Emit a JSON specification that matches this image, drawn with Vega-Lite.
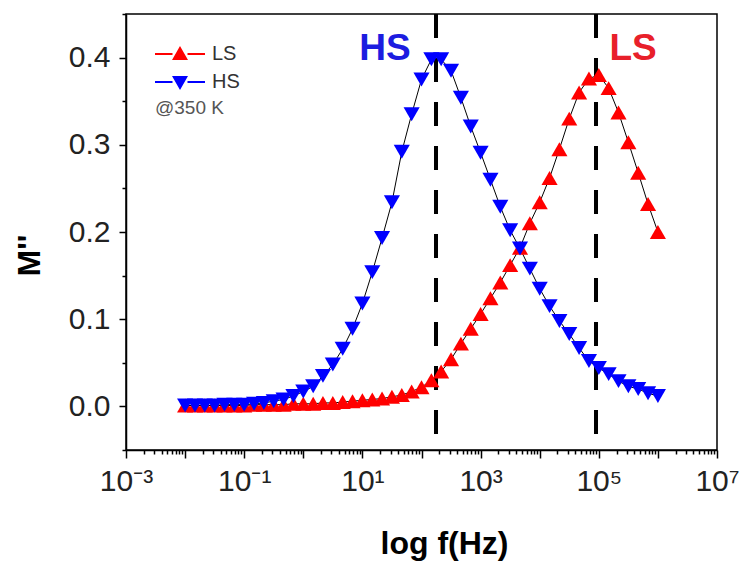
{
  "$schema": "https://vega.github.io/schema/vega-lite/v6.json",
  "width": 591,
  "height": 436,
  "autosize": "none",
  "padding": {"left": 126, "top": 14, "right": 28, "bottom": 113},
  "background": "white",
  "config": {
    "view": {"stroke": "black", "strokeWidth": 1.5},
    "font": "Liberation Sans",
    "axis": {
      "grid": false,
      "domainColor": "black",
      "domainWidth": 1.5,
      "tickColor": "black",
      "tickWidth": 1.5,
      "labelFont": "Liberation Sans",
      "labelFontSize": 30,
      "labelColor": "#222",
      "titleFont": "Liberation Sans",
      "titleFontSize": 32,
      "titleFontWeight": "bold",
      "titleColor": "black"
    },
    "legend": {
      "orient": "none",
      "legendX": 29,
      "legendY": 30,
      "padding": 0,
      "titleOrient": "bottom",
      "titleAnchor": "start",
      "titleAlign": "left",
      "titleFontSize": 19,
      "titleFontWeight": "normal",
      "titleColor": "#555",
      "titleFont": "Liberation Sans",
      "titlePadding": 7,
      "labelFont": "Liberation Sans",
      "labelFontSize": 20,
      "labelColor": "#333",
      "symbolSize": 400,
      "symbolStrokeWidth": 0,
      "symbolOpacity": 1,
      "labelOffset": 37,
      "rowPadding": 8
    }
  },
  "datasets": {
    "main": [
      {"f": 0.01, "LS": 0.001, "HS": 0.001},
      {"f": 0.0147, "LS": 0.001, "HS": 0.001},
      {"f": 0.0215, "LS": 0.001, "HS": 0.001},
      {"f": 0.0316, "LS": 0.001, "HS": 0.001},
      {"f": 0.0464, "LS": 0.001, "HS": 0.002},
      {"f": 0.0681, "LS": 0.001, "HS": 0.002},
      {"f": 0.1, "LS": 0.001, "HS": 0.002},
      {"f": 0.147, "LS": 0.002, "HS": 0.003},
      {"f": 0.215, "LS": 0.002, "HS": 0.004},
      {"f": 0.316, "LS": 0.002, "HS": 0.006},
      {"f": 0.464, "LS": 0.002, "HS": 0.008},
      {"f": 0.681, "LS": 0.003, "HS": 0.012},
      {"f": 1, "LS": 0.003, "HS": 0.017},
      {"f": 1.47, "LS": 0.003, "HS": 0.023},
      {"f": 2.15, "LS": 0.004, "HS": 0.035},
      {"f": 3.16, "LS": 0.004, "HS": 0.048},
      {"f": 4.64, "LS": 0.005, "HS": 0.066},
      {"f": 6.81, "LS": 0.006, "HS": 0.089},
      {"f": 10, "LS": 0.007, "HS": 0.118},
      {"f": 14.7, "LS": 0.008, "HS": 0.154},
      {"f": 21.5, "LS": 0.009, "HS": 0.193},
      {"f": 31.6, "LS": 0.011, "HS": 0.234},
      {"f": 46.4, "LS": 0.013, "HS": 0.292},
      {"f": 68.1, "LS": 0.017, "HS": 0.335},
      {"f": 100, "LS": 0.022, "HS": 0.375},
      {"f": 147, "LS": 0.030, "HS": 0.398},
      {"f": 215, "LS": 0.040, "HS": 0.398},
      {"f": 316, "LS": 0.054, "HS": 0.385},
      {"f": 464, "LS": 0.072, "HS": 0.354},
      {"f": 681, "LS": 0.089, "HS": 0.321},
      {"f": 1000, "LS": 0.106, "HS": 0.291},
      {"f": 1468, "LS": 0.124, "HS": 0.260},
      {"f": 2154, "LS": 0.142, "HS": 0.229},
      {"f": 3162, "LS": 0.162, "HS": 0.202},
      {"f": 4642, "LS": 0.182, "HS": 0.181},
      {"f": 6813, "LS": 0.210, "HS": 0.158},
      {"f": 10000, "LS": 0.234, "HS": 0.135},
      {"f": 14678, "LS": 0.262, "HS": 0.115},
      {"f": 21544, "LS": 0.295, "HS": 0.098},
      {"f": 31623, "LS": 0.330, "HS": 0.083},
      {"f": 46416, "LS": 0.360, "HS": 0.067},
      {"f": 68129, "LS": 0.376, "HS": 0.052},
      {"f": 100000, "LS": 0.380, "HS": 0.044},
      {"f": 146780, "LS": 0.365, "HS": 0.037},
      {"f": 215440, "LS": 0.337, "HS": 0.029},
      {"f": 316230, "LS": 0.303, "HS": 0.023},
      {"f": 464160, "LS": 0.268, "HS": 0.020},
      {"f": 681290, "LS": 0.232, "HS": 0.015},
      {"f": 1000000, "LS": 0.200, "HS": 0.012}
    ],
    "peaks": [
      {"f": 176, "series": "HS"},
      {"f": 89700, "series": "LS"}
    ],
    "labels": [
      {"f": 24, "M": 0.41, "series": "HS", "text": "HS"},
      {"f": 380000, "M": 0.41, "series": "LS", "text": "LS"}
    ]
  },
  "layer": [
    {
      "data": {"name": "peaks"},
      "mark": {"type": "rule", "color": "black", "strokeWidth": 4, "strokeDash": [24, 20]},
      "encoding": {
        "x": {
          "field": "f", "type": "quantitative",
          "scale": {"type": "log", "domain": [0.001, 10000000]},
          "axis": {
            "title": "log f(Hz)",
            "values": [0.001,0.002,0.003,0.004,0.005,0.006,0.007,0.008,0.009,0.01,0.02,0.03,0.04,0.05,0.06,0.07,0.08,0.09,0.1,0.2,0.3,0.4,0.5,0.6,0.7,0.8,0.9,1,2,3,4,5,6,7,8,9,10,20,30,40,50,60,70,80,90,100,200,300,400,500,600,700,800,900,1000,2000,3000,4000,5000,6000,7000,8000,9000,10000,20000,30000,40000,50000,60000,70000,80000,90000,100000,200000,300000,400000,500000,600000,700000,800000,900000,1000000,2000000,3000000,4000000,5000000,6000000,7000000,8000000,9000000,10000000],
            "labelExpr": "datum.value == 0.001 ? '10⁻³' : datum.value == 0.1 ? '10⁻¹' : datum.value == 10 ? '10¹' : datum.value == 1000 ? '10³' : datum.value == 100000 ? '10⁵' : datum.value == 10000000 ? '10⁷' : ''",
            "tickSize": {"condition": {"test": "indexof([0.001,0.01,0.1,1,10,100,1000,10000,100000,1000000,10000000], datum.value) >= 0", "value": 8}, "value": 4},
            "labelOverlap": false,
            "labelFlush": false,
            "labelPadding": 8,
            "titleX": 318,
            "titleY": 103,
            "titleBaseline": "alphabetic",
            "titleAlign": "center"
          }
        }
      }
    },
    {
      "data": {"name": "main"},
      "transform": [{"fold": ["LS", "HS"], "as": ["series", "M"]}],
      "mark": {"type": "line", "color": "black", "strokeWidth": 1},
      "encoding": {
        "x": {"field": "f", "type": "quantitative"},
        "y": {
          "field": "M", "type": "quantitative",
          "scale": {"domain": [-0.05, 0.45], "nice": false, "zero": false},
          "axis": {
            "title": "M''",
            "values": [-0.05, 0, 0.05, 0.1, 0.15, 0.2, 0.25, 0.3, 0.35, 0.4, 0.45],
            "labelExpr": "indexof([0, 0.1, 0.2, 0.3, 0.4], datum.value) >= 0 ? format(datum.value, '.1f') : ''",
            "tickSize": {"condition": {"test": "indexof([0, 0.1, 0.2, 0.3, 0.4], datum.value) >= 0", "value": 7}, "value": 4},
            "labelOverlap": false,
            "labelFlush": false,
            "labelPadding": 9,
            "titleX": -97,
            "titleY": 241,
            "titleAngle": -90,
            "titleAlign": "center",
            "titleBaseline": "middle"
          }
        },
        "detail": {"field": "series"}
      }
    },
    {
      "data": {"name": "main"},
      "mark": {"type": "point", "shape": "triangle-up", "filled": true, "size": 260, "opacity": 1, "strokeWidth": 0, "color": "#ff0000"},
      "encoding": {
        "x": {"field": "f", "type": "quantitative"},
        "y": {"field": "LS", "type": "quantitative"}
      }
    },
    {
      "data": {"name": "main"},
      "mark": {"type": "point", "shape": "triangle-down", "filled": true, "size": 260, "opacity": 1, "strokeWidth": 0, "color": "#0000ff"},
      "encoding": {
        "x": {"field": "f", "type": "quantitative"},
        "y": {"field": "HS", "type": "quantitative"}
      }
    },
    {
      "data": {"name": "labels"},
      "mark": {"type": "point", "filled": true, "opacity": 0, "size": 10},
      "encoding": {
        "x": {"field": "f", "type": "quantitative"},
        "y": {"field": "M", "type": "quantitative"},
        "color": {
          "field": "series", "type": "nominal",
          "scale": {"domain": ["LS", "HS"], "range": ["#ff0000", "#0000ff"]},
          "legend": {"title": "@350 K"}
        },
        "shape": {
          "field": "series", "type": "nominal",
          "scale": {"domain": ["LS", "HS"], "range": ["M-1,-0.09H0.75V0.09H-1Z M2.25,-0.09H4V0.09H2.25Z M0.7,0.6L2.3,0.6L1.5,-0.8Z", "M-1,-0.09H0.75V0.09H-1Z M2.25,-0.09H4V0.09H2.25Z M0.7,-0.6L2.3,-0.6L1.5,0.8Z"]},
          "legend": {"title": "@350 K"}
        }
      }
    },
    {
      "data": {"name": "labels"},
      "transform": [{"filter": "datum.series === 'HS'"}],
      "mark": {"type": "text", "fontSize": 37, "fontWeight": "bold", "font": "Liberation Sans", "baseline": "middle", "align": "center", "color": "#1c1ce0"},
      "encoding": {
        "x": {"field": "f", "type": "quantitative"},
        "y": {"field": "M", "type": "quantitative"},
        "text": {"field": "text"}
      }
    },
    {
      "data": {"name": "labels"},
      "transform": [{"filter": "datum.series === 'LS'"}],
      "mark": {"type": "text", "fontSize": 37, "fontWeight": "bold", "font": "Liberation Sans", "baseline": "middle", "align": "center", "color": "#e8202a"},
      "encoding": {
        "x": {"field": "f", "type": "quantitative"},
        "y": {"field": "M", "type": "quantitative"},
        "text": {"field": "text"}
      }
    }
  ]
}
